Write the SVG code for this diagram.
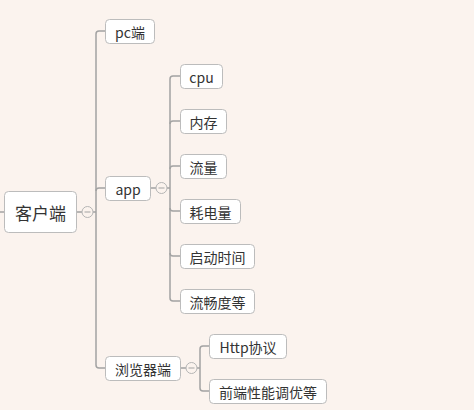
<svg xmlns="http://www.w3.org/2000/svg" width="474" height="410" viewBox="0 0 474 410">
<style>
.bg{fill:#fbf3ee}
.box{fill:#ffffff;stroke:#bcbcbc;stroke-width:1}
.t{font-family:"Noto Sans CJK SC","Liberation Sans",sans-serif;font-size:14px;fill:#333333;text-anchor:middle;dominant-baseline:central}
.rt{font-size:17px}
.ln{fill:none;stroke:#a3a3a3;stroke-width:1.5}
.cc{fill:#fbf3ee;stroke:#b5b5b5;stroke-width:1}
.cm{stroke:#a3a3a3;stroke-width:1}
</style>
<rect class="bg" x="0" y="0" width="474" height="410"/>
<g id="connectors">
<path class="ln" d="M0,212 H4"/>
<path class="ln" d="M77,212 H82 M93,212 H96"/>
<path class="ln" d="M96,212 V34 Q96,31 99,31 H105"/>
<path class="ln" d="M96,212 V365 Q96,368 99,368 H105"/>
<path class="ln" d="M96,191 Q96,188 99,188 H105"/>
<path class="ln" d="M150,188 H156 M167,188 H170"/>
<path class="ln" d="M170,188 V79 Q170,76 173,76 H180"/>
<path class="ln" d="M170,188 V298 Q170,301 173,301 H180"/>
<path class="ln" d="M170,124 Q170,121 173,121 H180"/>
<path class="ln" d="M170,169 Q170,166 173,166 H180"/>
<path class="ln" d="M170,208 Q170,211 173,211 H180"/>
<path class="ln" d="M170,253 Q170,256 173,256 H180"/>
<path class="ln" d="M180,368 H186 M197,368 H200"/>
<path class="ln" d="M200,368 V349 Q200,346 203,346 H209"/>
<path class="ln" d="M200,368 V388 Q200,391 203,391 H209"/>
<circle class="cc" cx="87.5" cy="212" r="5.5"/>
<path class="cm" d="M84.5,212 H90.5"/>
<circle class="cc" cx="161.5" cy="188" r="5.5"/>
<path class="cm" d="M158.5,188 H164.5"/>
<circle class="cc" cx="191.5" cy="368" r="5.5"/>
<path class="cm" d="M188.5,368 H194.5"/>
</g>
<g id="root"><rect class="box" x="4.5" y="191.5" width="72" height="41" rx="4"/><text class="t rt" x="40.5" y="212">客户端</text></g>
<g id="pc"><rect class="box" x="105.5" y="19.5" width="49" height="24" rx="4"/><text class="t" x="130" y="31.5">pc端</text></g>
<g id="app"><rect class="box" x="105.5" y="176.5" width="45" height="24" rx="4"/><text class="t" x="128" y="188.5">app</text></g>
<g id="browser"><rect class="box" x="105.5" y="356.5" width="75" height="24" rx="4"/><text class="t" x="143" y="368.5">浏览器端</text></g>
<g id="cpu"><rect class="box" x="180.5" y="64.5" width="42" height="24" rx="4"/><text class="t" x="201.5" y="76.5">cpu</text></g>
<g id="mem"><rect class="box" x="180.5" y="109.5" width="46" height="24" rx="4"/><text class="t" x="203.5" y="121.5">内存</text></g>
<g id="flow"><rect class="box" x="180.5" y="154.5" width="46" height="24" rx="4"/><text class="t" x="203.5" y="166.5">流量</text></g>
<g id="power"><rect class="box" x="180.5" y="199.5" width="60" height="24" rx="4"/><text class="t" x="210.5" y="211.5">耗电量</text></g>
<g id="start"><rect class="box" x="180.5" y="244.5" width="74" height="24" rx="4"/><text class="t" x="217.5" y="256.5">启动时间</text></g>
<g id="smooth"><rect class="box" x="180.5" y="289.5" width="74" height="24" rx="4"/><text class="t" x="217.5" y="301.5">流畅度等</text></g>
<g id="http"><rect class="box" x="209.5" y="334.5" width="77" height="24" rx="4"/><text class="t" x="248" y="346.5">Http协议</text></g>
<g id="frontend"><rect class="box" x="209.5" y="379.5" width="117" height="24" rx="4"/><text class="t" x="268" y="391.5">前端性能调优等</text></g>
</svg>
